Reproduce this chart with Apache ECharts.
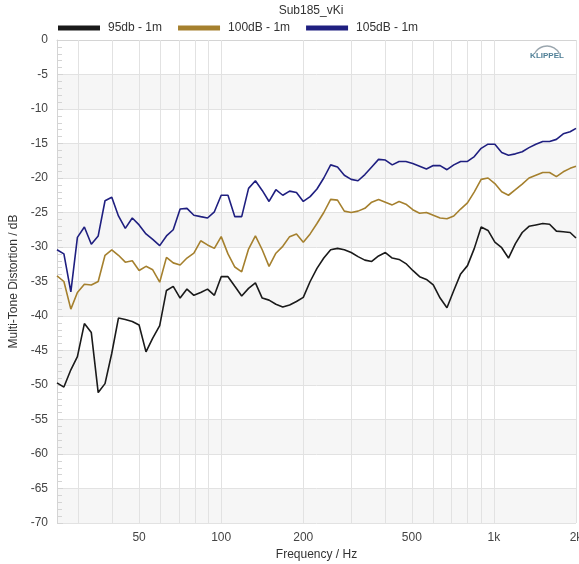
<!DOCTYPE html>
<html>
<head>
<meta charset="utf-8">
<title>Sub185_vKi</title>
<script src="https://cdn.jsdelivr.net/npm/echarts@6/dist/echarts.min.js"></script>
<style>
  html, body { margin: 0; padding: 0; background: #fff; }
  #chart { width: 579px; height: 564px; }
</style>
</head>
<body>
<div id="chart"></div>
<script>
// Measurement frequencies (Hz), 1/12-octave steps
const freqs = [25, 26.5, 28.1, 29.7, 31.5, 33.4, 35.4, 37.5, 39.7, 42, 44.5, 47.2,
  50, 53, 56.1, 59.5, 63, 66.7, 70.7, 74.9, 79.4, 84.1, 89.1, 94.4,
  100, 105.9, 112.2, 118.9, 126, 133.5, 141.4, 149.8, 158.7, 168.2, 178.2, 188.8,
  200, 211.9, 224.5, 237.8, 252, 267, 282.8, 299.7, 317.5, 336.4, 356.4, 377.6,
  400, 423.8, 449, 475.7, 504, 534, 565.7, 599.3, 635, 672.7, 712.7, 755.1,
  800, 847.6, 898, 951.4, 1008, 1068, 1131, 1199, 1270, 1345, 1425, 1510,
  1600, 1695, 1796, 1903, 2000];

// Multi-tone distortion (dB) per level
const mtd95 = [-49.7, -50.3, -47.8, -45.9, -41.1, -42.4, -51.1, -49.8, -45.4, -40.3, -40.5, -40.8,
  -41.3, -45.2, -43.2, -41.4, -36.3, -35.7, -37.4, -36.1, -37.0, -36.6, -36.1, -37.0,
  -34.3, -34.3, -35.7, -37.1, -36.0, -35.2, -37.4, -37.7, -38.3, -38.7, -38.4, -37.9,
  -37.3, -35.0, -33.1, -31.6, -30.4, -30.2, -30.4, -30.8, -31.4, -31.9, -32.1, -31.3,
  -30.8, -31.6, -31.8, -32.4, -33.4, -34.3, -34.7, -35.5, -37.4, -38.8, -36.3, -33.9,
  -32.7, -30.2, -27.1, -27.6, -29.3, -30.1, -31.6, -29.5, -27.9, -27.0, -26.8, -26.6,
  -26.7, -27.7, -27.8, -27.9, -28.7];

const mtd100 = [-34.2, -35.0, -39.0, -36.6, -35.4, -35.5, -35.0, -31.2, -30.4, -31.2, -32.2, -32.0,
  -33.4, -32.8, -33.3, -35.1, -31.5, -32.3, -32.6, -31.6, -30.9, -29.1, -29.7, -30.2,
  -28.5, -31.0, -32.9, -33.6, -30.3, -28.4, -30.4, -32.8, -30.9, -29.9, -28.5, -28.1,
  -29.3, -28.1, -26.6, -25.0, -23.1, -23.2, -24.8, -25.0, -24.8, -24.4, -23.5, -23.1,
  -23.5, -23.9, -23.4, -23.8, -24.6, -25.1, -25.0, -25.4, -25.8, -25.9, -25.5, -24.5,
  -23.6, -22.0, -20.2, -20.0, -20.8, -22.0, -22.5, -21.7, -20.9, -20.0, -19.6, -19.2,
  -19.2, -19.8, -19.1, -18.6, -18.3];

const mtd105 = [-30.4, -31.0, -36.5, -28.6, -27.1, -29.6, -28.4, -23.3, -22.8, -25.5, -27.3, -25.8,
  -26.8, -28.1, -28.9, -29.8, -28.4, -27.5, -24.5, -24.4, -25.4, -25.6, -25.8, -24.9,
  -22.5, -22.5, -25.6, -25.6, -21.5, -20.4, -21.8, -23.4, -21.7, -22.5, -21.9, -22.1,
  -23.4, -22.7, -21.6, -20.0, -18.1, -18.4, -19.6, -20.2, -20.4, -19.5, -18.4, -17.3,
  -17.4, -18.1, -17.6, -17.6, -17.9, -18.3, -18.7, -18.2, -18.2, -18.8, -18.1, -17.6,
  -17.6, -16.9, -15.7, -15.1, -15.1, -16.3, -16.7, -16.5, -16.2, -15.6, -15.1, -14.7,
  -14.7, -14.4, -13.6, -13.3, -12.8];

const seriesNames = ['95db - 1m', '100dB - 1m', '105dB - 1m'];
const seriesColors = ['#1a1a1a', '#a5802e', '#1f1f80'];

// Frequency grid lines and labelled frequencies
const gridFreqs = [30, 40, 50, 60, 70, 80, 90, 100, 200, 300, 400, 500, 600, 700, 800, 900, 1000, 2000];
const labelFreqs = [50, 100, 200, 500, 1000, 2000];

const font = "'Liberation Sans', Arial, sans-serif";

function pairs(values) {
  return values.map((v, i) => [freqs[i], v]);
}

const chart = echarts.init(document.getElementById('chart'), null, { renderer: 'canvas' });

chart.setOption({
  animation: false,
  textStyle: { fontFamily: font },
  title: {
    text: 'Sub185_vKi',
    left: 306,
    textAlign: 'center',
    top: 0,
    textStyle: { fontSize: 12, fontWeight: 'normal', color: '#333', fontFamily: font }
  },
  legend: {
    data: seriesNames,
    left: 53,
    top: 17,
    icon: 'rect',
    itemWidth: 42,
    itemHeight: 5,
    itemGap: 16,
    textStyle: { fontSize: 12, color: '#333', fontFamily: font, padding: [0, 0, 0, 3] }
  },
  grid: { left: 57, right: 3, top: 40, bottom: 41, containLabel: false, outerBoundsMode: 'none' },
  xAxis: {
    type: 'log',
    logBase: 10,
    min: 25,
    max: 2000,
    name: 'Frequency / Hz',
    nameLocation: 'middle',
    nameGap: 24,
    nameTextStyle: { fontSize: 12, color: '#333', fontFamily: font },
    axisLine: { show: true, lineStyle: { color: '#d4d4d4' } },
    axisTick: { show: false },
    splitLine: { show: false },
    axisLabel: {
      customValues: labelFreqs,
      fontSize: 12,
      color: '#444',
      margin: 9,
      fontFamily: font,
      formatter: v => (v >= 1000 ? (v / 1000) + 'k' : String(v))
    }
  },
  yAxis: {
    type: 'value',
    min: -70,
    max: 0,
    interval: 5,
    name: 'Multi-Tone Distortion / dB',
    nameLocation: 'middle',
    nameGap: 34,
    nameTextStyle: { fontSize: 12, color: '#333', fontFamily: font },
    axisLine: { show: true, lineStyle: { color: '#d4d4d4' } },
    axisTick: { show: true, inside: true, length: 6, lineStyle: { color: '#d4d4d4' } },
    minorTick: { show: true, splitNumber: 5, length: 5, lineStyle: { color: '#d4d4d4' } },
    axisLabel: { fontSize: 12, color: '#444', margin: 9, fontFamily: font },
    splitLine: { show: true, lineStyle: { color: '#e2e2e2', width: 1 } },
    splitArea: { show: true, areaStyle: { color: ['#f6f6f6', '#ffffff'] } }
  },
  graphic: [
    {
      type: 'arc',
      shape: { cx: 547, cy: 60, r: 14, startAngle: -2.62, endAngle: -0.52, clockwise: true },
      style: { stroke: '#9aa6ae', lineWidth: 1.4, fill: null },
      z: 10
    },
    {
      type: 'text',
      x: 547,
      y: 56,
      style: {
        text: 'KLIPPEL',
        align: 'center',
        verticalAlign: 'middle',
        fontSize: 8,
        fontWeight: 'bold',
        fill: '#4f7f96',
        fontFamily: font
      },
      z: 10
    }
  ],
  series: [
    {
      name: 'frequency grid',
      type: 'line',
      data: [],
      z: 1,
      silent: true,
      markLine: {
        silent: true,
        z: 1,
        symbol: ['none', 'none'],
        label: { show: false },
        lineStyle: { color: '#e2e2e2', width: 1, type: 'solid' },
        emphasis: { disabled: true },
        data: gridFreqs.map(f => ({ xAxis: f }))
      }
    },
    {
      name: seriesNames[0],
      type: 'line',
      data: pairs(mtd95),
      showSymbol: false,
      z: 3,
      lineStyle: { color: seriesColors[0], width: 1.6 },
      itemStyle: { color: seriesColors[0] }
    },
    {
      name: seriesNames[1],
      type: 'line',
      data: pairs(mtd100),
      showSymbol: false,
      z: 3,
      lineStyle: { color: seriesColors[1], width: 1.6 },
      itemStyle: { color: seriesColors[1] }
    },
    {
      name: seriesNames[2],
      type: 'line',
      data: pairs(mtd105),
      showSymbol: false,
      z: 3,
      lineStyle: { color: seriesColors[2], width: 1.6 },
      itemStyle: { color: seriesColors[2] }
    }
  ]
});
</script>
</body>
</html>
